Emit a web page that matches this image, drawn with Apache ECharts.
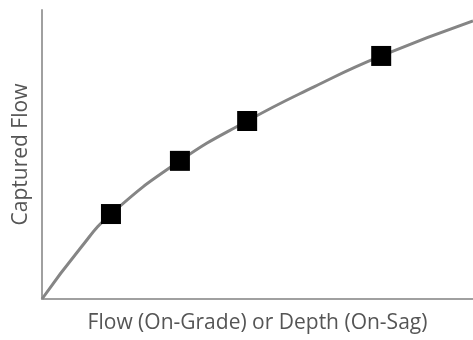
<!DOCTYPE html>
<html>
<head>
<meta charset="utf-8">
<script src="https://cdn.jsdelivr.net/npm/echarts@6/dist/echarts.min.js"></script>
<style>
  html, body { margin: 0; padding: 0; background: #ffffff; }
  #chart { width: 473px; height: 340px; }
</style>
</head>
<body>
<div id="chart"></div>
<script>
// curve (x, y in 0..100 units)
const curveX = [0, 8.8, 16.0, 32.0, 47.6, 63.1, 78.7, 100];
const curveY = [0, 17.4, 29.4, 47.8, 61.6, 73.4, 84.1, 96.2];
// square markers
const markX = [16.0, 32.0, 47.6, 78.7];
const markY = [29.4, 47.8, 61.6, 84.1];

const xName = 'Flow (On-Grade) or Depth (On-Sag)';
const yName = 'Captured Flow';

const chart = echarts.init(document.getElementById('chart'), null, { renderer: 'canvas' });

const nameStyle = { color: '#555555', fontFamily: 'Open Sans', fontSize: 21 };
const axisLine = { show: true, lineStyle: { color: '#a0a0a0', width: 2 } };

chart.setOption({
  animation: false,
  grid: { left: 42, right: 0, top: 10, bottom: 41 },
  xAxis: {
    type: 'value', min: 0, max: 100,
    name: xName, nameLocation: 'middle', nameGap: 14, nameTextStyle: nameStyle,
    axisLine: axisLine, axisTick: { show: false }, axisLabel: { show: false }, splitLine: { show: false }
  },
  yAxis: {
    type: 'value', min: 0, max: 100,
    name: yName, nameLocation: 'middle', nameGap: 10, nameTextStyle: nameStyle,
    axisLine: axisLine, axisTick: { show: false }, axisLabel: { show: false }, splitLine: { show: false }
  },
  series: [
    {
      type: 'line', smooth: true, symbol: 'none',
      data: curveX.map((x, i) => [x, curveY[i]]),
      lineStyle: { color: '#858585', width: 3 }
    },
    {
      type: 'scatter', symbol: 'rect', symbolSize: 20,
      data: markX.map((x, i) => [x, markY[i]]),
      itemStyle: { color: '#000000', opacity: 1 }, z: 3
    }
  ]
});
</script>
</body>
</html>
